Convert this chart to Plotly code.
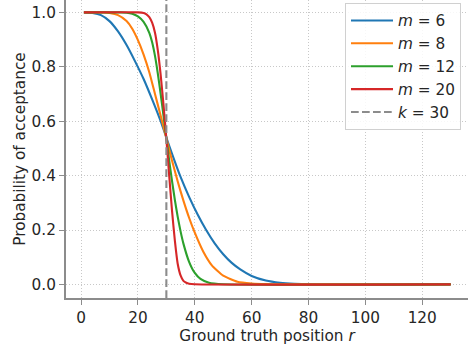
import plotly.graph_objects as go

# ---- data ----
r_m6 = [1, 4, 7, 10, 13, 16, 19, 22, 25, 28, 30, 32, 35, 38, 41, 44, 47, 50, 53, 56, 60, 65, 70, 75, 80, 90, 130]
p_m6 = [1.0, 0.998, 0.99, 0.968, 0.93, 0.88, 0.82, 0.755, 0.68, 0.6, 0.54, 0.48, 0.395, 0.322, 0.257,
        0.2, 0.151, 0.111, 0.079, 0.055, 0.031, 0.014, 0.006, 0.0025, 0.001, 0.0001, 0.0]

r_m8 = [1, 8, 10, 13, 16, 18, 20, 22, 24, 26, 28, 30, 32, 34, 36, 38, 40, 43, 46, 50, 55, 60, 65, 70, 130]
p_m8 = [1.0, 1.0, 0.998, 0.99, 0.968, 0.94, 0.898, 0.845, 0.78, 0.7, 0.62, 0.537, 0.455, 0.378, 0.308,
        0.245, 0.19, 0.12, 0.07, 0.032, 0.01, 0.0035, 0.001, 0.0002, 0.0]

r_m12 = [1, 14, 16, 18, 20, 22, 24, 25, 26, 27, 28, 29, 30, 31, 32, 33, 34, 35, 36, 38, 40, 42, 45, 50, 130]
p_m12 = [1.0, 1.0, 0.999, 0.995, 0.985, 0.965, 0.925, 0.89, 0.84, 0.775, 0.7, 0.62, 0.537, 0.455, 0.38,
         0.31, 0.248, 0.195, 0.15, 0.083, 0.042, 0.02, 0.006, 0.0005, 0.0]

r_m20 = [1, 20, 22, 23, 24, 25, 26, 27, 28, 29, 30, 31, 32, 33, 34, 35, 36, 37, 38, 40, 130]
p_m20 = [1.0, 1.0, 0.998, 0.993, 0.983, 0.962, 0.925, 0.86, 0.77, 0.66, 0.535, 0.4, 0.27, 0.16, 0.075,
         0.033, 0.013, 0.006, 0.0025, 0.0003, 0.0]

series_names = ["<i>m</i> = 6", "<i>m</i> = 8", "<i>m</i> = 12", "<i>m</i> = 20"]
series_colors = ["#1f77b4", "#ff7f0e", "#2ca02c", "#d62728"]
k_value = 30
k_name = "<i>k</i> = 30"

x_ticks = [0, 20, 40, 60, 80, 100, 120]
y_ticks = [0.0, 0.2, 0.4, 0.6, 0.8, 1.0]
X_RANGE = [-5.3, 136.1]
Y_RANGE = [-0.05, 1.0456]

FONT = "DejaVu Sans"
FS = 15.3

fig = go.Figure()
for rr, pp, name, col in zip([r_m6, r_m8, r_m12, r_m20], [p_m6, p_m8, p_m12, p_m20], series_names, series_colors):
    fig.add_trace(go.Scatter(x=rr, y=pp, mode="lines", name=name,
                             line=dict(color=col, width=2.1, shape="spline", smoothing=0.5)))

fig.add_trace(go.Scatter(x=[k_value, k_value], y=Y_RANGE, mode="lines", name=k_name,
                         line=dict(color="#8c8c8c", width=2.1, dash="7.7px,3.3px")))

axis_common = dict(
    showline=True, linecolor="#8c8c8c", linewidth=2,
    ticks="outside", ticklen=5, tickwidth=1.3, tickcolor="#8c8c8c",
    showgrid=True, gridcolor="#c8c8c8", gridwidth=1, griddash="1px,2px",
    zeroline=False, mirror=False, automargin=False,
    tickfont=dict(family=FONT, size=FS, color="#262626"),
)

fig.update_xaxes(range=X_RANGE, tickvals=x_ticks, ticktext=[str(v) for v in x_ticks],
                 title=dict(text="Ground truth position <i>r</i>", font=dict(family=FONT, size=FS, color="#262626"), standoff=3),
                 **axis_common)
fig.update_yaxes(range=Y_RANGE, tickvals=y_ticks, ticktext=[f"{v:.1f}" for v in y_ticks],
                 title=dict(text="Probability of acceptance", font=dict(family=FONT, size=FS, color="#262626"), standoff=2),
                 **axis_common)

fig.update_layout(
    width=468, height=349,
    margin=dict(l=66, r=0, t=0, b=51, autoexpand=False),
    plot_bgcolor="white", paper_bgcolor="white",
    font=dict(family=FONT, size=FS, color="#262626"),
    showlegend=True,
    legend=dict(x=0.9826, y=0.99, xanchor="right", yanchor="top", itemwidth=42,
                bgcolor="rgba(255,255,255,0.85)", bordercolor="#d0d0d0", borderwidth=1,
                font=dict(family=FONT, size=FS, color="#262626")),
)

fig.write_html("out.html", config={"displayModeBar": False},
               post_script="document.body.style.margin='0px';document.body.style.padding='0px';")
